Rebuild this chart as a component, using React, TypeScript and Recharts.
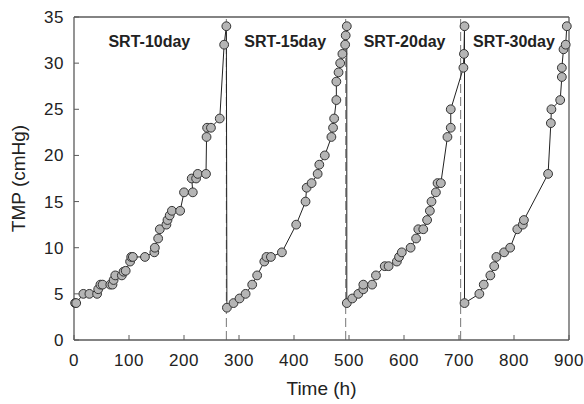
import React from 'react';
import { LineChart, Line, XAxis, YAxis, ReferenceLine, ReferenceDot, Label } from 'recharts';

const timeH: number[] = [
  2, 4, 17, 28, 42, 44, 48, 52, 66, 70, 72, 75, 87, 90, 94, 102, 104, 107, 129, 146, 147, 153, 156, 168, 170, 174, 178, 193, 200, 216, 214, 222, 225, 240, 241, 242, 249, 265, 273, 277,
  278, 290, 301, 312, 324, 333, 346, 350, 358, 378, 404, 421, 423, 432, 443, 446, 456, 468, 471, 473, 477, 477, 481, 484, 488, 493, 494, 496,
  496, 506, 517, 526, 526, 542, 549, 565, 572, 587, 591, 596, 612, 622, 626, 635, 642, 647, 650, 658, 661, 667, 679, 685, 685, 708, 709, 710,
  710, 737, 745, 757, 764, 768, 782, 793, 806, 816, 818, 862, 867, 868, 884, 887, 887, 890, 894, 896,
];
const tmpValues: number[] = [
  4, 4, 5, 5, 5, 5.5, 6, 6, 6, 6, 6.5, 7, 7, 7.4, 7.5, 8.5, 9, 9, 9, 9.5, 10, 11, 12, 12.5, 13, 13.5, 14, 14, 16, 16, 17.5, 17.5, 18, 18, 22, 23, 23, 24, 32, 34,
  3.5, 4, 4.5, 5, 6, 7, 8.5, 9, 9, 9.5, 12.5, 15, 16.5, 17, 18, 19, 20, 22, 23, 24, 26, 28, 29, 30, 31, 32, 33, 34,
  4, 4.5, 5, 5.5, 6, 6, 7, 8, 8, 8.5, 9, 9.5, 10, 11, 12, 12, 13, 14, 15, 16, 17, 17, 22, 23, 25, 29.5, 31, 34,
  4, 5, 6, 7, 8, 9, 9.5, 10, 12, 12.5, 13, 18, 23.5, 25, 26, 28.5, 29.5, 31.5, 32, 34,
];
const xTicks: number[] = [0, 100, 200, 300, 400, 500, 600, 700, 800, 900];
const yTicks: number[] = [0, 5, 10, 15, 20, 25, 30, 35];
const srtBreaks: number[] = [277, 494, 703];
const srtLabels: string[] = ['SRT-10day', 'SRT-15day', 'SRT-20day', 'SRT-30day'];
const srtLabelX: number[] = [137, 384, 601, 800];
const srtLabelY = 32.4;

const data = timeH.map((t, i) => ({ t, v: tmpValues[i] }));

const FONT = '"Liberation Sans", Arial, sans-serif';
const AXIS = '#5a5a5a';
const TEXT = '#222';

const XTick = (props: any) => {
  const { x, y, payload } = props;
  return (
    <g>
      <line x1={x} x2={x} y1={y} y2={y - 5} stroke={AXIS} strokeWidth={1} />
      <text x={x} y={y + 26} textAnchor="middle" fontSize={17} fontFamily={FONT} fill={TEXT} letterSpacing={0.5}>
        {payload.value}
      </text>
    </g>
  );
};

const YTick = (props: any) => {
  const { x, y, payload } = props;
  return (
    <g>
      <line x1={x} x2={x + 5} y1={y} y2={y} stroke={AXIS} strokeWidth={1} />
      <text x={x - 10} y={y + 6} textAnchor="end" fontSize={17} fontFamily={FONT} fill={TEXT} letterSpacing={0.5}>
        {payload.value}
      </text>
    </g>
  );
};

const App = () => (
  <div style={{ position: 'absolute', left: 0, top: 0, width: 584, height: 404, background: '#fff' }}>
    <LineChart width={584} height={404} data={data} margin={{ top: 17, right: 15, bottom: 0, left: 0 }}>
      <XAxis
        dataKey="t"
        type="number"
        domain={[0, 900]}
        ticks={xTicks}
        height={64}
        tickSize={0}
        tickMargin={0}
        tick={<XTick />}
        tickLine={false}
        axisLine={{ stroke: AXIS, strokeWidth: 1.3 }}
      >
        <Label
          content={(p: any) => {
            const vb = p.viewBox;
            return (
              <text x={vb.x + vb.width / 2} y={395} textAnchor="middle" fontSize={19} fontFamily={FONT} fill={TEXT}>
                Time (h)
              </text>
            );
          }}
        />
      </XAxis>
      <YAxis
        type="number"
        domain={[0, 35]}
        ticks={yTicks}
        width={74}
        tickSize={0}
        tickMargin={0}
        tick={<YTick />}
        tickLine={false}
        axisLine={{ stroke: AXIS, strokeWidth: 1.3 }}
      >
        <Label
          content={(p: any) => {
            const vb = p.viewBox;
            const cx = 18;
            const cy = vb.y + vb.height / 2;
            return (
              <text x={cx} y={cy} transform={`rotate(-90, ${cx}, ${cy})`} textAnchor="middle" dominantBaseline="central" fontSize={19} fontFamily={FONT} fill={TEXT}>
                TMP (cmHg)
              </text>
            );
          }}
        />
      </YAxis>
      <ReferenceLine y={35} stroke={AXIS} strokeWidth={1.3} />
      <ReferenceLine x={900} stroke={AXIS} strokeWidth={1.3} />
      {srtBreaks.map((b) => (
        <ReferenceLine key={b} x={b} stroke="#777" strokeWidth={1} strokeDasharray="9 4" />
      ))}
      {srtLabels.map((s, i) => (
        <ReferenceDot
          key={s}
          x={srtLabelX[i]}
          y={srtLabelY}
          r={0}
          fill="none"
          stroke="none"
          ifOverflow="visible"
          label={{ value: s, position: 'center', fontSize: 16, fontWeight: 'bold', fontFamily: FONT, fill: TEXT }}
        />
      ))}
      <Line
        dataKey="v"
        type="linear"
        stroke="#222"
        strokeWidth={1}
        isAnimationActive={false}
        dot={{ r: 4.4, fill: '#b5b5b5', stroke: '#333', strokeWidth: 1 }}
        activeDot={false}
      />
    </LineChart>
  </div>
);

export default App;
